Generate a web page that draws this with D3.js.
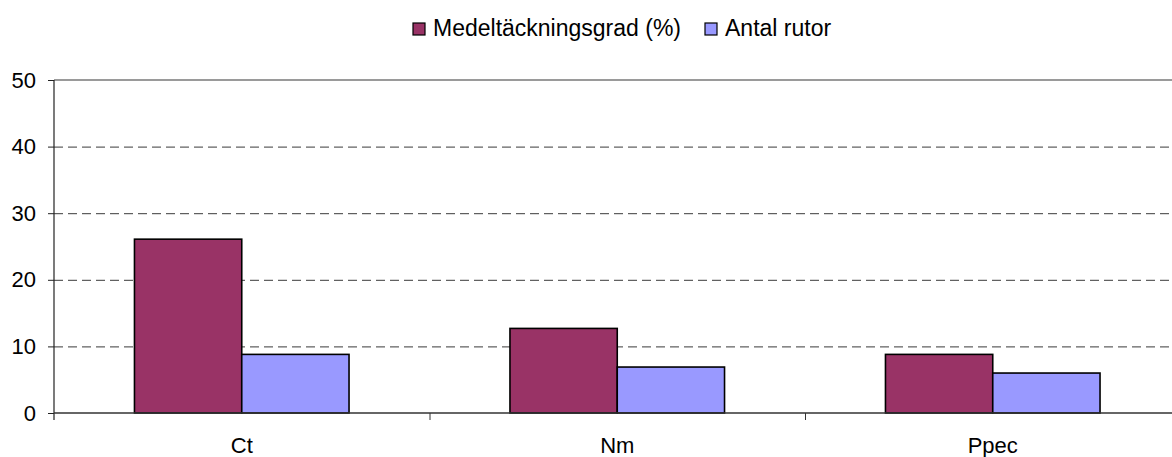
<!DOCTYPE html>
<html>
<head>
<meta charset="utf-8">
<script src="https://cdn.jsdelivr.net/npm/d3@7/dist/d3.min.js"></script>
<style>
  html, body { margin: 0; padding: 0; background: #fff; }
  svg { display: block; font-family: "Liberation Sans", Arial, sans-serif; }
</style>
</head>
<body>
<svg id="chart" width="1172" height="457"></svg>
<script>
// Categories, series and axis ticks
const categories = ["Ct", "Nm", "Ppec"];
const seriesNames = ["Medeltäckningsgrad (%)", "Antal rutor"];
const medeltackning = [26.1, 12.7, 8.8];
const antalRutor = [8.8, 6.9, 6.0];
const yTicks = [0, 10, 20, 30, 40, 50];
const seriesColors = ["#993366", "#9999FF"];

const svg = d3.select("#chart");
const margin = { left: 54, top: 80, bottom: 413 };
const plotRight = 54 + 3 * 375.5;

const x = d3.scaleBand().domain(categories).range([margin.left, plotRight]).paddingInner(0).paddingOuter(0);
const y = d3.scaleLinear().domain([0, 50]).range([margin.bottom, margin.top]);
// Two bars per category, separated from neighbours by a 150% gap
const barW = x.bandwidth() / 3.5;
const sub = d3.scaleBand().domain(seriesNames).range([barW * 0.75, barW * 2.75]).padding(0);

// Gridlines (dashed), top line solid grey
svg.append("g").selectAll("line")
  .data(yTicks.filter(t => t > 0 && t < 50))
  .join("line")
  .attr("x1", margin.left).attr("x2", 1172)
  .attr("y1", d => y(d) + 0.5).attr("y2", d => y(d) + 0.5)
  .attr("stroke", "#3a3a3a").attr("stroke-width", 1)
  .attr("stroke-dasharray", "9,5");

svg.append("line")
  .attr("x1", margin.left).attr("x2", 1172)
  .attr("y1", y(50)).attr("y2", y(50))
  .attr("stroke", "#9a9a9a").attr("stroke-width", 2);

// Bars
const rows = categories.map((c, i) => ({ cat: c, vals: [medeltackning[i], antalRutor[i]] }));
const groups = svg.append("g").selectAll("g")
  .data(rows).join("g")
  .attr("transform", d => `translate(${x(d.cat)},0)`);

groups.selectAll("rect")
  .data(d => d.vals.map((v, j) => ({ name: seriesNames[j], v, j })))
  .join("rect")
  .attr("x", d => sub(d.name))
  .attr("y", d => y(d.v))
  .attr("width", sub.bandwidth())
  .attr("height", d => y(0) - y(d.v))
  .attr("fill", d => seriesColors[d.j])
  .attr("stroke", "#000").attr("stroke-width", 1.6);

// Y axis
const yAxis = d3.axisLeft(y).tickValues(yTicks).tickSize(6).tickPadding(12);
const gy = svg.append("g").attr("transform", `translate(${margin.left},0)`).call(yAxis);
gy.select(".domain").attr("d", `M0,${y(50)}V${y(0) + 7}`).attr("stroke", "#222").attr("stroke-width", 1.2);
gy.selectAll(".tick line").attr("stroke", "#222");
gy.selectAll(".tick text").attr("font-size", 22).attr("fill", "#000")
  .attr("font-family", "Liberation Sans, Arial, sans-serif");

// X axis line with category boundary ticks
svg.append("line")
  .attr("x1", margin.left).attr("x2", 1172)
  .attr("y1", y(0)).attr("y2", y(0))
  .attr("stroke", "#333").attr("stroke-width", 1.4);

svg.append("g").selectAll("line")
  .data(categories.slice(1))
  .join("line")
  .attr("x1", d => x(d) + 0.5).attr("x2", d => x(d) + 0.5)
  .attr("y1", y(0)).attr("y2", y(0) + 7)
  .attr("stroke", "#333");

svg.append("g").selectAll("text")
  .data(categories)
  .join("text")
  .attr("x", d => x(d) + x.bandwidth() / 2)
  .attr("y", 453)
  .attr("text-anchor", "middle")
  .attr("font-size", 22)
  .text(d => d);

// Legend
const legend = svg.append("g");
const legendItems = [
  { name: seriesNames[0], color: seriesColors[0], sx: 413, tx: 433 },
  { name: seriesNames[1], color: seriesColors[1], sx: 705, tx: 725 }
];
legend.selectAll("rect").data(legendItems).join("rect")
  .attr("x", d => d.sx).attr("y", 23).attr("width", 12).attr("height", 12)
  .attr("fill", d => d.color).attr("stroke", "#000").attr("stroke-width", 1.2);
legend.selectAll("text").data(legendItems).join("text")
  .attr("x", d => d.tx).attr("y", 36)
  .attr("font-size", 23)
  .text(d => d.name);
</script>
</body>
</html>
